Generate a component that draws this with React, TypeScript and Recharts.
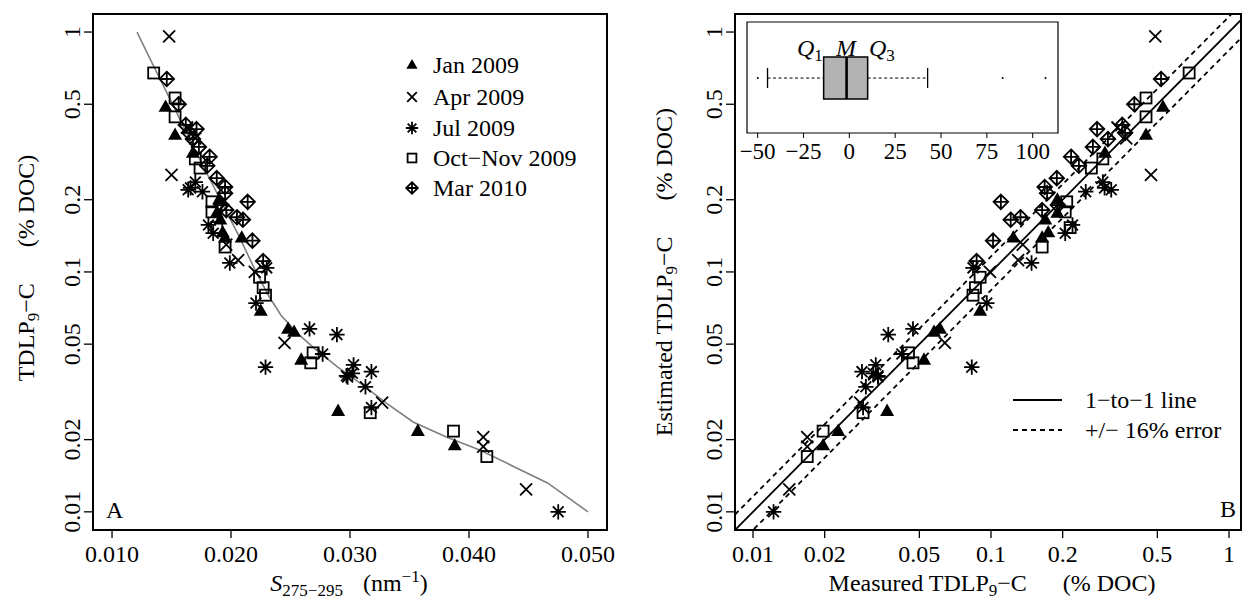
import React from 'react';
import { ScatterChart, Scatter, XAxis, YAxis, ReferenceArea, ReferenceLine } from 'recharts';

const FONT = '"Liberation Serif", "Times New Roman", serif';

// S275-295 (nm^-1), measured TDLP9-C and estimated TDLP9-C (% DOC), per campaign
const janS = [0.0145, 0.0153, 0.0168, 0.019, 0.0188, 0.0191, 0.0193, 0.0195, 0.0209, 0.0225, 0.0248, 0.0253, 0.0259, 0.029, 0.0357, 0.0388];
const janMeasured = [0.487, 0.372, 0.313, 0.2, 0.176, 0.165, 0.146, 0.139, 0.139, 0.0688, 0.0578, 0.0562, 0.043, 0.0263, 0.0217, 0.0189];
const janEstimated = [0.528, 0.448, 0.301, 0.19, 0.19, 0.169, 0.174, 0.164, 0.124, 0.09, 0.061, 0.0576, 0.0523, 0.0366, 0.0228, 0.0197];

const aprS = [0.0148, 0.015, 0.0163, 0.017, 0.0196, 0.0206, 0.022, 0.0245, 0.0327, 0.0412, 0.0412, 0.0448];
const aprMeasured = [0.96, 0.254, 0.4, 0.36, 0.13, 0.112, 0.1, 0.0506, 0.0285, 0.0205, 0.0187, 0.0124];
const aprEstimated = [0.49, 0.47, 0.34, 0.37, 0.136, 0.13, 0.099, 0.064, 0.0282, 0.0169, 0.0169, 0.0142];

const julS = [0.0164, 0.0166, 0.017, 0.0176, 0.0181, 0.0185, 0.0199, 0.0221, 0.0229, 0.023, 0.0266, 0.0277, 0.0289, 0.0297, 0.0298, 0.0302, 0.0303, 0.0313, 0.0318, 0.0318, 0.0475];
const julMeasured = [0.22, 0.224, 0.237, 0.216, 0.157, 0.145, 0.109, 0.0742, 0.0401, 0.104, 0.0579, 0.0455, 0.0548, 0.0369, 0.0365, 0.0378, 0.041, 0.0332, 0.0384, 0.0272, 0.01];
const julEstimated = [0.32, 0.3, 0.295, 0.25, 0.22, 0.205, 0.148, 0.096, 0.083, 0.084, 0.047, 0.0422, 0.037, 0.0335, 0.0335, 0.032, 0.0328, 0.0298, 0.0287, 0.029, 0.0122];

const octS = [0.0135, 0.0153, 0.0153, 0.017, 0.0174, 0.0184, 0.0184, 0.0188, 0.0195, 0.0224, 0.0227, 0.0229, 0.0267, 0.0269, 0.0317, 0.0387, 0.0415];
const octMeasured = [0.675, 0.531, 0.443, 0.296, 0.271, 0.196, 0.178, 0.153, 0.127, 0.095, 0.086, 0.08, 0.0418, 0.046, 0.0259, 0.0217, 0.017];
const octEstimated = [0.68, 0.448, 0.448, 0.295, 0.264, 0.208, 0.205, 0.215, 0.164, 0.09, 0.086, 0.084, 0.047, 0.045, 0.029, 0.0197, 0.0169];

const marS = [0.0146, 0.0156, 0.0162, 0.0165, 0.0168, 0.0171, 0.0173, 0.018, 0.0182, 0.0188, 0.0192, 0.0195, 0.0195, 0.0196, 0.0205, 0.021, 0.0214, 0.0218, 0.0227];
const marMeasured = [0.637, 0.5, 0.41, 0.38, 0.358, 0.394, 0.332, 0.277, 0.302, 0.246, 0.19, 0.226, 0.213, 0.181, 0.169, 0.165, 0.196, 0.135, 0.111];
const marEstimated = [0.518, 0.4, 0.356, 0.366, 0.31, 0.279, 0.268, 0.234, 0.217, 0.189, 0.191, 0.168, 0.172, 0.164, 0.133, 0.121, 0.11, 0.102, 0.087];

// fitted curve
const fitS = [0.0121, 0.0135, 0.015, 0.017, 0.0191, 0.0207, 0.0221, 0.0232, 0.0242, 0.0255, 0.027, 0.029, 0.031, 0.033, 0.0353, 0.0381, 0.0409, 0.0437, 0.0466, 0.05];
const fitTdlp = [1.0, 0.72, 0.51, 0.32, 0.2, 0.14, 0.1, 0.079, 0.066, 0.056, 0.048, 0.04, 0.034, 0.0285, 0.0237, 0.0205, 0.0181, 0.0155, 0.0132, 0.01];

// inset: relative error (%) box plot
const boxQuartiles = [-14, -1.5, 10];
const boxWhiskers = [-44.6, 42.7];
const boxOutliers = [-49.9, 83.6, 107];

const logTicks = [0.01, 0.02, 0.05, 0.1, 0.2, 0.5, 1];
const slopeTicks = [0.01, 0.02, 0.03, 0.04, 0.05];
const errorTicks = [-50, -25, 0, 25, 50, 75, 100];
const errorBand = 0.16;

const yDomain = [0.0084, 1.189];
const xDomainA = [0.0084, 0.0516];
const xDomainB = [0.0084, 1.123];
const insetDomain = [-55.8, 113.8];

type Kind = 'tri' | 'cross' | 'star' | 'square' | 'diamond';

const series: { name: string; kind: Kind; s: number[]; m: number[]; e: number[] }[] = [
  { name: 'Jan 2009', kind: 'tri', s: janS, m: janMeasured, e: janEstimated },
  { name: 'Apr 2009', kind: 'cross', s: aprS, m: aprMeasured, e: aprEstimated },
  { name: 'Jul 2009', kind: 'star', s: julS, m: julMeasured, e: julEstimated },
  { name: 'Oct\u2212Nov 2009', kind: 'square', s: octS, m: octMeasured, e: octEstimated },
  { name: 'Mar 2010', kind: 'diamond', s: marS, m: marMeasured, e: marEstimated },
];

function Marker({ kind, cx, cy, k = 1 }: { kind: Kind; cx: number; cy: number; k?: number }) {
  const line = { stroke: '#000', strokeWidth: 1.8, fill: 'none' };
  if (kind === 'tri') {
    return <polygon points={`${cx},${cy - 7.5 * k} ${cx - 7 * k},${cy + 4.8 * k} ${cx + 7 * k},${cy + 4.8 * k}`} fill="#000" />;
  }
  if (kind === 'cross') {
    const h = 6 * k;
    return <path d={`M${cx - h},${cy - h}L${cx + h},${cy + h}M${cx - h},${cy + h}L${cx + h},${cy - h}`} {...line} />;
  }
  if (kind === 'star') {
    const h = 5.4 * k;
    const p = 7.7 * k;
    return (
      <path
        d={`M${cx - h},${cy - h}L${cx + h},${cy + h}M${cx - h},${cy + h}L${cx + h},${cy - h}M${cx - p},${cy}L${cx + p},${cy}M${cx},${cy - p}L${cx},${cy + p}`}
        {...line}
      />
    );
  }
  if (kind === 'square') {
    const h = 5.5 * k;
    return <rect x={cx - h} y={cy - h} width={2 * h} height={2 * h} {...line} />;
  }
  const h = 7.3 * k;
  return (
    <path
      d={`M${cx},${cy - h}L${cx + h},${cy}L${cx},${cy + h}L${cx - h},${cy}Z M${cx - h},${cy}L${cx + h},${cy}M${cx},${cy - h}L${cx},${cy + h}`}
      {...line}
    />
  );
}

const YTick = (p: any) => (
  <text
    x={p.x - 2}
    y={p.y}
    transform={`rotate(-90, ${p.x - 2}, ${p.y})`}
    textAnchor="middle"
    fontSize={24}
    fontFamily={FONT}
    fill="#000"
  >
    {String(p.payload.value)}
  </text>
);

const XTick = (fmt: (v: number) => string, dy = 22, size = 24) => (p: any) => (
  <text x={p.x} y={p.y + dy} textAnchor="middle" fontSize={size} fontFamily={FONT} fill="#000">
    {fmt(p.payload.value)}
  </text>
);

const minus = (v: number) => (v < 0 ? '\u2212' + Math.abs(v) : String(v));

function PanelA() {
  const fit = fitS.map((s, i) => ({ x: s, y: fitTdlp[i] }));
  return (
    <ScatterChart width={620} height={603} margin={{ top: 14, right: 13, bottom: 3, left: 3 }}>
      <XAxis
        type="number"
        dataKey="x"
        domain={xDomainA}
        allowDataOverflow
        ticks={slopeTicks}
        tick={XTick((v) => v.toFixed(3))}
        tickSize={8}
        tickMargin={2}
        tickLine={{ stroke: '#000', strokeWidth: 1.3 }}
        axisLine={false}
        height={70}
      />
      <YAxis
        type="number"
        dataKey="y"
        scale="log"
        domain={yDomain}
        allowDataOverflow
        ticks={logTicks}
        tick={YTick}
        tickSize={9}
        tickMargin={2}
        tickLine={{ stroke: '#000', strokeWidth: 1.3 }}
        axisLine={false}
        width={90}
      />
      <ReferenceArea x1={xDomainA[0]} x2={xDomainA[1]} y1={yDomain[0]} y2={yDomain[1]} fill="none" stroke="#000" strokeWidth={2} ifOverflow="visible" />
      <Scatter
        data={fit}
        line={{ stroke: '#7f7f7f', strokeWidth: 1.6 }}
        lineType="joint"
        shape={() => <g />}
        isAnimationActive={false}
      />
      {series.map((sr) => (
        <Scatter
          key={sr.name}
          data={sr.s.map((s, i) => ({ x: s, y: sr.m[i] }))}
          shape={(p: any) => <Marker kind={sr.kind} cx={p.cx} cy={p.cy} />}
          isAnimationActive={false}
        />
      ))}
    </ScatterChart>
  );
}

function PanelB() {
  const ends = xDomainB;
  return (
    <ScatterChart width={623} height={603} margin={{ top: 14, right: 2, bottom: 3, left: 5 }}>
      <XAxis
        type="number"
        dataKey="x"
        scale="log"
        domain={xDomainB}
        allowDataOverflow
        ticks={logTicks}
        tick={XTick((v) => String(v))}
        tickSize={8}
        tickMargin={2}
        tickLine={{ stroke: '#000', strokeWidth: 1.3 }}
        axisLine={false}
        height={70}
      />
      <YAxis
        type="number"
        dataKey="y"
        scale="log"
        domain={yDomain}
        allowDataOverflow
        ticks={logTicks}
        tick={YTick}
        tickSize={9}
        tickMargin={2}
        tickLine={{ stroke: '#000', strokeWidth: 1.3 }}
        axisLine={false}
        width={110}
      />
      <ReferenceLine
        segment={[{ x: ends[0], y: ends[0] }, { x: ends[1], y: ends[1] }]}
        stroke="#000"
        strokeWidth={1.8}
        ifOverflow="hidden"
      />
      <ReferenceLine
        segment={[{ x: ends[0], y: ends[0] * (1 + errorBand) }, { x: ends[1], y: ends[1] * (1 + errorBand) }]}
        stroke="#000"
        strokeWidth={1.8}
        strokeDasharray="5 4"
        ifOverflow="hidden"
      />
      <ReferenceLine
        segment={[{ x: ends[0], y: ends[0] * (1 - errorBand) }, { x: ends[1] * 1.2, y: ends[1] * 1.2 * (1 - errorBand) }]}
        stroke="#000"
        strokeWidth={1.8}
        strokeDasharray="5 4"
        ifOverflow="hidden"
      />
      <ReferenceArea x1={xDomainB[0]} x2={xDomainB[1]} y1={yDomain[0]} y2={yDomain[1]} fill="none" stroke="#000" strokeWidth={2} ifOverflow="visible" />
      {series.map((sr) => (
        <Scatter
          key={sr.name}
          data={sr.e.map((e, i) => ({ x: e, y: sr.m[i] }))}
          shape={(p: any) => <Marker kind={sr.kind} cx={p.cx} cy={p.cy} />}
          isAnimationActive={false}
        />
      ))}
    </ScatterChart>
  );
}

function Inset() {
  const [q1, med, q3] = boxQuartiles;
  const [lo, hi] = boxWhiskers;
  const mid = 0.495;
  return (
    <ScatterChart width={353} height={146} margin={{ top: 1, right: 21, bottom: 0, left: 21 }}>
      <XAxis
        type="number"
        dataKey="x"
        domain={insetDomain}
        allowDataOverflow
        ticks={errorTicks}
        tick={XTick(minus, 19, 23)}
        tickSize={5}
        tickMargin={2}
        tickLine={{ stroke: '#000', strokeWidth: 1 }}
        axisLine={false}
        height={34}
      />
      <YAxis type="number" dataKey="y" domain={[0, 1]} hide />
      <ReferenceArea x1={insetDomain[0]} x2={insetDomain[1]} y1={0} y2={1} fill="#fff" fillOpacity={1} stroke="#000" strokeWidth={1.2} ifOverflow="visible" />
      <ReferenceLine segment={[{ x: lo, y: mid }, { x: q1, y: mid }]} stroke="#000" strokeWidth={1} strokeDasharray="3 2.5" />
      <ReferenceLine segment={[{ x: q3, y: mid }, { x: hi, y: mid }]} stroke="#000" strokeWidth={1} strokeDasharray="3 2.5" />
      <ReferenceLine segment={[{ x: lo, y: 0.405 }, { x: lo, y: 0.586 }]} stroke="#000" strokeWidth={1.3} />
      <ReferenceLine segment={[{ x: hi, y: 0.405 }, { x: hi, y: 0.586 }]} stroke="#000" strokeWidth={1.3} />
      <ReferenceArea x1={q1} x2={q3} y1={0.306} y2={0.685} fill="#b3b3b3" fillOpacity={1} stroke="#000" strokeWidth={1.5} />
      <ReferenceLine segment={[{ x: med, y: 0.306 }, { x: med, y: 0.685 }]} stroke="#000" strokeWidth={2.6} />
      <Scatter
        data={boxOutliers.map((v) => ({ x: v, y: mid }))}
        shape={(p: any) => <circle cx={p.cx} cy={p.cy} r={1} fill="#000" />}
        isAnimationActive={false}
      />
    </ScatterChart>
  );
}

const sub = { fontSize: 17, verticalAlign: '-5px', lineHeight: 0 };
const sup = { fontSize: 17, verticalAlign: '9px', lineHeight: 0 };

// rotated y-axis title centred on (cx, cy)
function YTitle({ cx, cy, lead, gap }: { cx: number; cy: number; lead: string; gap: number }) {
  return (
    <div
      style={{
        position: 'absolute',
        left: cx,
        top: cy,
        transform: 'translate(-50%, -50%) rotate(-90deg)',
        whiteSpace: 'nowrap',
        fontSize: 24,
        lineHeight: '24px',
      }}
    >
      {lead}TDLP<span style={sub}>9</span>{'\u2212C'}
      <span style={{ marginLeft: gap }}>(% DOC)</span>
    </div>
  );
}

function Overlay() {
  const t = { fontFamily: FONT, fontSize: 24, fill: '#000' };
  const rows = [65, 97, 128, 158, 188];
  return (
    <svg width={1243} height={603} style={{ position: 'absolute', left: 0, top: 0, pointerEvents: 'none' }}>
      {/* panel letters */}
      <text {...t} x={106} y={518}>A</text>
      <text {...t} x={1220} y={517}>B</text>

      {/* panel A legend */}
      {series.map((sr, i) => (
        <g key={sr.name}>
          <Marker kind={sr.kind} cx={412} cy={rows[i]} k={0.8} />
          <text {...t} x={433} y={rows[i] + 8}>{sr.name}</text>
        </g>
      ))}

      {/* panel B legend */}
      <line x1={1013} x2={1062} y1={400} y2={400} stroke="#000" strokeWidth={1.8} />
      <line x1={1013} x2={1062} y1={430} y2={430} stroke="#000" strokeWidth={1.8} strokeDasharray="5 4" />
      <text {...t} x={1085} y={408}>{'1\u2212to\u22121 line'}</text>
      <text {...t} x={1085} y={438}>{'+/\u2212 16% error'}</text>

      {/* inset quartile labels */}
      <text {...t} x={797} y={56} fontStyle="italic">
        Q<tspan dy={5} fontSize={17} fontStyle="normal">1</tspan>
      </text>
      <text {...t} x={846} y={56} fontStyle="italic" textAnchor="middle">M</text>
      <text {...t} x={869} y={56} fontStyle="italic">
        Q<tspan dy={5} fontSize={17} fontStyle="normal">3</tspan>
      </text>
    </svg>
  );
}

export default function App() {
  return (
    <div style={{ position: 'fixed', left: 0, top: 0, width: 1243, height: 603, background: '#fff', fontFamily: FONT, color: '#000' }}>
      <div style={{ position: 'absolute', left: 0, top: 0 }}>
        <PanelA />
      </div>
      <div style={{ position: 'absolute', left: 620, top: 0 }}>
        <PanelB />
      </div>
      <div style={{ position: 'absolute', left: 726, top: 21 }}>
        <Inset />
      </div>
      <Overlay />

      <YTitle cx={26} cy={268} lead="" gap={36} />
      <YTitle cx={664} cy={272} lead="Estimated " gap={36} />

      <div style={{ position: 'absolute', left: 349, top: 571, transform: 'translateX(-50%)', whiteSpace: 'nowrap', fontSize: 24, lineHeight: '24px' }}>
        <i>S</i>
        <span style={sub}>{'275\u2212295'}</span>
        <span style={{ marginLeft: 20 }}>(nm</span>
        <span style={sup}>{'\u22121'}</span>)
      </div>
      <div style={{ position: 'absolute', left: 992, top: 571, transform: 'translateX(-50%)', whiteSpace: 'nowrap', fontSize: 24, lineHeight: '24px' }}>
        Measured TDLP<span style={sub}>9</span>{'\u2212C'}
        <span style={{ marginLeft: 36 }}>(% DOC)</span>
      </div>
    </div>
  );
}
